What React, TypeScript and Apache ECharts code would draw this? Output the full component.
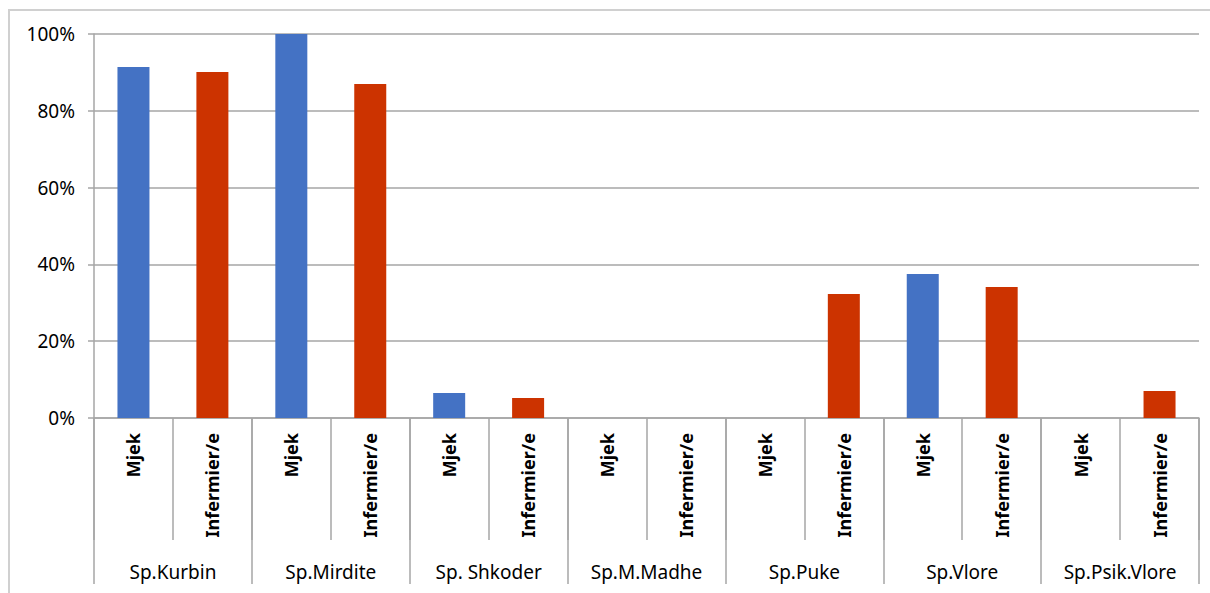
import React, { useEffect, useRef } from "react";
import * as echarts from "echarts";

const groups = ["Sp.Kurbin", "Sp.Mirdite", "Sp. Shkoder", "Sp.M.Madhe", "Sp.Puke", "Sp.Vlore", "Sp.Psik.Vlore"];
const roles = ["Mjek", "Infermier/e"];
const mjekValues = [91.4, 100, 6.5, 0, 0, 37.5, 0];
const infermierValues = [90.1, 87.0, 5.2, 0, 32.3, 34.1, 7.0];
const yTicks = [0, 20, 40, 60, 80, 100];

const FONT = "Noto Sans";
const GRAY = "#A6A6A6";

export default function App() {
  const ref = useRef<HTMLDivElement>(null);
  useEffect(() => {
    if (!ref.current) return;
    const chart = echarts.init(ref.current, null, { renderer: "svg" });
    const categories: string[] = [];
    const mjekData: (number | null)[] = [];
    const infData: (number | null)[] = [];
    groups.forEach((_, g) => {
      categories.push(roles[0]);
      categories.push(roles[1]);
      mjekData.push(mjekValues[g]);
      mjekData.push(null);
      infData.push(null);
      infData.push(infermierValues[g]);
    });
    chart.setOption({
      animation: false,
      backgroundColor: "#ffffff",
      graphic: [
        {
          type: "rect",
          shape: { x: 9, y: 10, width: 1220, height: 620 },
          style: { fill: "none", stroke: "#D0D0D0", lineWidth: 2 },
          silent: true,
        },
      ],
      grid: { left: 94, right: 11, top: 34, bottom: 175, containLabel: false },
      xAxis: [
        {
          type: "category",
          data: categories,
          position: "bottom",
          boundaryGap: true,
          axisLine: { show: true, lineStyle: { color: GRAY, width: 1.5 } },
          axisTick: { show: true, interval: 0, length: 122, lineStyle: { color: GRAY, width: 1.5 } },
          axisLabel: {
            interval: 0,
            rotate: 90,
            margin: 15,
            fontFamily: FONT,
            fontSize: 18,
            fontWeight: "bold",
            color: "#000000",
          },
          splitLine: { show: false },
        },
        {
          type: "category",
          data: groups,
          position: "bottom",
          boundaryGap: true,
          axisLine: { show: false },
          axisTick: { show: true, interval: 0, length: 166, lineStyle: { color: GRAY, width: 1.5 } },
          axisLabel: {
            interval: 0,
            margin: 144,
            fontFamily: FONT,
            fontSize: 19,
            color: "#000000",
          },
          splitLine: { show: false },
        },
      ],
      yAxis: {
        type: "value",
        min: yTicks[0],
        max: yTicks[yTicks.length - 1],
        interval: 20,
        axisLine: { show: true, lineStyle: { color: GRAY, width: 1.5 } },
        axisTick: { show: true, length: 6, lineStyle: { color: GRAY, width: 1.5 } },
        axisLabel: {
          formatter: "{value}%",
          margin: 19,
          fontFamily: FONT,
          fontSize: 19,
          color: "#000000",
        },
        splitLine: { show: true, lineStyle: { color: GRAY, width: 1.5 } },
      },
      series: [
        {
          name: roles[0],
          type: "bar",
          xAxisIndex: 0,
          stack: "all",
          data: mjekData,
          barWidth: 32,
          itemStyle: { color: "#4472C4" },
        },
        {
          name: roles[1],
          type: "bar",
          xAxisIndex: 0,
          stack: "all",
          data: infData,
          barWidth: 32,
          itemStyle: { color: "#CC3300" },
        },
      ],
    });
    return () => chart.dispose();
  }, []);
  return (
    <div
      ref={ref}
      style={{ position: "fixed", left: 0, top: 0, width: 1210, height: 593 }}
    />
  );
}
